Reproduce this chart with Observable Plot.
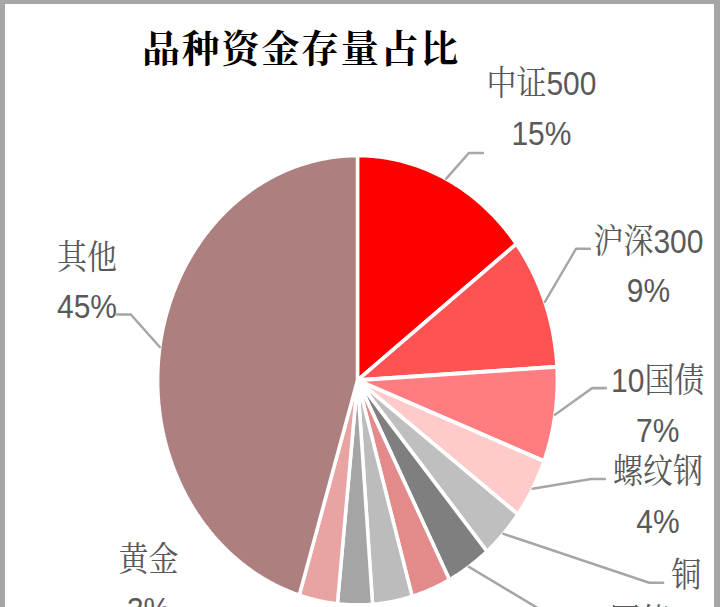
<!DOCTYPE html>
<html><head><meta charset="utf-8">
<script src="https://cdn.jsdelivr.net/npm/d3@7"></script>
<script src="https://cdn.jsdelivr.net/npm/@observablehq/plot@0.6"></script>
<style>
html,body{margin:0;padding:0;overflow:hidden;width:720px;height:607px;background:#a6a6a6;}
#frame{position:absolute;left:5px;top:4px;width:709px;height:620px;background:#fff;}
#chart{position:absolute;left:0;top:0;width:720px;}
#title{position:absolute;left:301px;top:27px;transform:translateX(-50%);font:700 38px/38px "Noto Serif CJK SC","Noto Sans CJK SC",serif;letter-spacing:1.75px;color:#000;white-space:nowrap;}
</style></head><body>
<div id="frame"></div>
<div id="chart"></div>
<div id="title"></div>
<script>
// ---- data ----
const title = "品种资金存量占比";
const categories = ["中证500","沪深300","10国债","螺纹钢","铜","5国债",null,null,null,"黄金","其他"]; // null: label not visible in reference
const shares = [14.6, 9.4, 6.8, 4.3, 3.6, 3.6, 3.2, 3.2, 2.8, 3.1, 45.2];
// ---- styles / layout ----
const colors = ["#ff0000","#ff5353","#ff7c80","#ffcaca","#bfbfbf","#7f7f7f","#e38a8a","#bcbcbc","#a5a5a5","#eaa3a3","#ad7f7f"];
const labelNudge = [[51,26],[10,-1],[4,-31],[38,-51],[110,-15],[107,-18],null,null,null,[-150,-131],[26,-53]];
const CX = 357, CY = 380, RX = 200, RY = 225, S = RY / RX; // page geometry; SVG is stretched vertically by S
const FS = 30, LABEL_R = 1.5;
const fontFamily = "'Liberation Sans Narrow','Liberation Sans','Noto Serif CJK SC',serif";

document.getElementById("title").textContent = title;

const total = d3.sum(shares);
let acc = 0;
const slices = shares.map((v, i) => {
  const a0 = acc / total * 2 * Math.PI; acc += v;
  const a1 = acc / total * 2 * Math.PI;
  return {i, name: categories[i], value: v, pct: Math.round(v / total * 100), a0, a1, mid: (a0 + a1) / 2};
});

const polys = slices.flatMap(s => {
  const n = Math.max(2, Math.ceil((s.a1 - s.a0) / (Math.PI / 360)));
  const pts = [{i: s.i, x: 0, y: 0}];
  for (let k = 0; k <= n; k++) {
    const a = s.a0 + (s.a1 - s.a0) * k / n;
    pts.push({i: s.i, x: Math.sin(a), y: Math.cos(a)});
  }
  pts.push({i: s.i, x: 0, y: 0});
  return pts;
});

const textWidth = str => Array.from(str).reduce((w, c) =>
  w + (/[0-9]/.test(c) ? 0.456 * FS : c === "%" ? 0.729 * FS : FS), 0);
const toData = (px, py) => ({x: (px - CX) / RX, y: (CY - py) / RY});

const labels = slices.filter(s => s.name).map(s => {
  const [ndx, ndy] = labelNudge[s.i];
  const lx = LABEL_R * Math.sin(s.mid) + ndx / RX;
  const ly = LABEL_R * Math.cos(s.mid) - ndy / RY;
  return {...s, lx, ly, text: `${s.name}\n${s.pct}%`};
});

const leaders = labels.flatMap(l => {
  const sx = CX + RX * Math.sin(l.mid), sy = CY - RY * Math.cos(l.mid);
  const lcx = CX + RX * l.lx, lcy = CY - RY * l.ly;
  const half = textWidth(l.name) / 2;
  let ex, ey, bx;
  if (Math.sin(l.mid) >= 0) {
    ex = lcx - half - 8;
    ey = (sy - lcy) > 65 ? lcy + 49 : lcy - 13;
    bx = ex - 14;
  } else {
    ex = lcx + half;
    ey = lcy + 37;
    bx = ex + 14;
    if (ey > sy) return []; // leader would run below the slice edge: not drawn
  }
  return [toData(sx, sy), toData(bx, ey), toData(ex, ey)].map(p => ({...p, i: l.i}));
});

const svg = Plot.plot({
  width: 720,
  height: Math.round(607 / S),
  margin: 0,
  x: {domain: [-1, 1], range: [CX - RX, CX + RX], axis: null},
  y: {domain: [-1, 1], range: [(CY + RY) / S, (CY - RY) / S], axis: null},
  color: {type: "identity"},
  marks: [
    Plot.line(polys, {x: "x", y: "y", z: "i", fill: d => colors[d.i], stroke: "white", strokeWidth: 3.5, strokeLinejoin: "miter"}),
    Plot.line(leaders, {x: "x", y: "y", z: "i", stroke: "#a6a6a6", strokeWidth: 2.3, strokeLinejoin: "miter"}),
    Plot.text(labels, {x: "lx", y: "ly", text: "text", fontSize: FS, lineHeight: 44 / FS, lineAnchor: "middle", textAnchor: "middle", fill: "#595959", fontFamily})
  ]
});
svg.style.background = "transparent";
svg.style.maxWidth = "none";
svg.style.height = (607 / S) + "px";
svg.style.transformOrigin = "0 0";
svg.style.transform = `scale(1, ${S})`;
document.getElementById("chart").appendChild(svg);
</script>
</body></html>
